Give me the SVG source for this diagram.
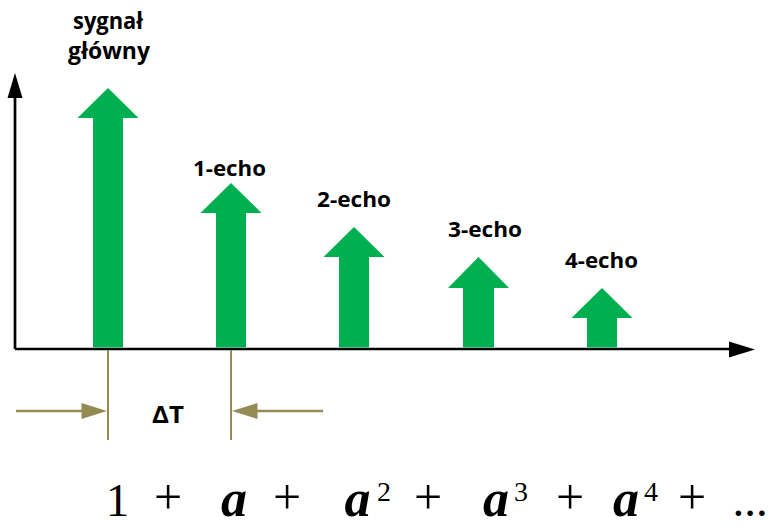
<svg xmlns="http://www.w3.org/2000/svg" width="769" height="527" viewBox="0 0 769 527">
<style>
.lbl{font-family:"Open Sans","Liberation Sans",Arial,sans-serif;font-weight:bold;fill:#000}
.math{font-family:"Liberation Serif","Times New Roman",serif;fill:#000;font-size:47px}
.plus{font-size:50px}
.var{font-weight:bold;font-style:italic;font-size:52px}
.sup{font-size:28px}
.sig{fill:#00B050}
.axis{stroke:#000;stroke-width:2.7;fill:none}
.dim{stroke:#948A54;fill:none}
</style>
<rect width="769" height="527" fill="#fff"/>
<g id="axes">
<path class="axis" d="M15,349 L15,96"/>
<polygon points="15,73 7.5,98 22.5,98" fill="#000"/>
<path class="axis" d="M15,349 L731,349"/>
<polygon points="755,349.5 729,341.5 729,357.5" fill="#000"/>
</g>
<g id="main-signal">
<polygon class="sig" points="108,88 138.5,118 123,118 123,347.5 93,347.5 93,118 77.5,118"/>
<text class="lbl" x="108" y="29" font-size="24" text-anchor="middle" textLength="70" lengthAdjust="spacingAndGlyphs">sygnał</text>
<text class="lbl" x="109" y="59" font-size="24" text-anchor="middle" textLength="82" lengthAdjust="spacingAndGlyphs">główny</text>
</g>
<g id="echo1">
<polygon class="sig" points="231,183 261.5,213 246,213 246,347.5 216,347.5 216,213 200.5,213"/>
<text class="lbl" x="193" y="176" font-size="20.5" textLength="73" lengthAdjust="spacingAndGlyphs">1-echo</text>
</g>
<g id="echo2">
<polygon class="sig" points="354,227 384.5,257 369,257 369,347.5 339,347.5 339,257 323.5,257"/>
<text class="lbl" x="317" y="207" font-size="20.5" textLength="74" lengthAdjust="spacingAndGlyphs">2-echo</text>
</g>
<g id="echo3">
<polygon class="sig" points="478.5,257 509,288 494,288 494,347.5 463,347.5 463,288 448,288"/>
<text class="lbl" x="448" y="237" font-size="20.5" textLength="74" lengthAdjust="spacingAndGlyphs">3-echo</text>
</g>
<g id="echo4">
<polygon class="sig" points="602,288 632.5,318 617,318 617,347.5 587,347.5 587,318 571.5,318"/>
<text class="lbl" x="565" y="268" font-size="20.5" textLength="73" lengthAdjust="spacingAndGlyphs">4-echo</text>
</g>
<g id="connectors">
<line class="dim" x1="108" y1="350" x2="108" y2="440" stroke-width="2"/>
<line class="dim" x1="231" y1="350" x2="231" y2="440" stroke-width="2"/>
<line class="dim" x1="16" y1="411" x2="84" y2="411" stroke-width="2.7"/>
<polygon points="107,411 81.5,403 81.5,419" fill="#948A54"/>
<line class="dim" x1="256" y1="411" x2="323" y2="411" stroke-width="2.7"/>
<polygon points="232,411 257.5,403 257.5,419" fill="#948A54"/>
</g>
<g id="delta-label">
<text class="lbl" x="152" y="423" font-size="23" textLength="32" lengthAdjust="spacingAndGlyphs">ΔT</text>
</g>
<g id="formula">
<text class="math" x="117.5" y="516" text-anchor="middle">1</text>
<text class="math plus" x="168" y="514" text-anchor="middle">+</text>
<text class="math var" x="234" y="516" text-anchor="middle">a</text>
<text class="math plus" x="287" y="514" text-anchor="middle">+</text>
<text class="math var" x="357.5" y="516" text-anchor="middle">a</text>
<text class="math sup" x="384" y="501" text-anchor="middle">2</text>
<text class="math plus" x="428" y="514" text-anchor="middle">+</text>
<text class="math var" x="496" y="516" text-anchor="middle">a</text>
<text class="math sup" x="521" y="501" text-anchor="middle">3</text>
<text class="math plus" x="570" y="514" text-anchor="middle">+</text>
<text class="math var" x="626" y="516" text-anchor="middle">a</text>
<text class="math sup" x="651" y="501" text-anchor="middle">4</text>
<text class="math plus" x="692" y="514" text-anchor="middle">+</text>
<text class="math" x="750" y="516" text-anchor="middle">...</text>
</g>
</svg>
